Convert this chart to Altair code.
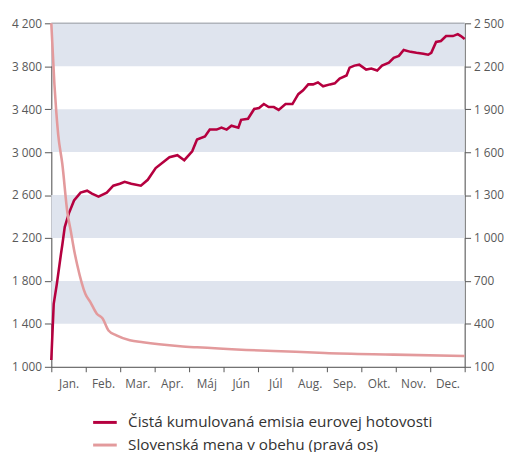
import altair as alt
import pandas as pd

months = ["Jan.", "Feb.", "Mar.", "Apr.", "Máj", "Jún", "Júl", "Aug.", "Sep.", "Okt.", "Nov.", "Dec."]

series_a = "Čistá kumulovaná emisia eurovej hotovosti"
series_b = "Slovenská mena v obehu (pravá os)"

# x in month units (0 = start of January, 12 = end of December)
a_x = [0.00, 0.07, 0.16, 0.28, 0.32, 0.39, 0.51, 0.66, 0.85, 1.04, 1.18, 1.37, 1.61, 1.80,
       1.99, 2.13, 2.32, 2.60, 2.80, 3.03, 3.43, 3.66, 3.86, 4.09, 4.23, 4.46, 4.60, 4.80,
       4.94, 5.09, 5.23, 5.43, 5.51, 5.71, 5.89, 6.03, 6.17, 6.31, 6.46, 6.60, 6.80, 7.00,
       7.17, 7.31, 7.46, 7.60, 7.74, 7.89, 8.09, 8.23, 8.37, 8.57, 8.66, 8.80, 8.94, 9.14,
       9.29, 9.46, 9.60, 9.80, 9.94, 10.09, 10.23, 10.43, 10.60, 10.80, 10.94, 11.03, 11.17,
       11.31, 11.46, 11.66, 11.80, 11.89, 12.00]
a_y = [1064, 1587, 1770, 2050, 2137, 2302, 2430, 2550, 2623, 2641, 2614, 2586, 2623, 2687,
       2705, 2724, 2705, 2687, 2742, 2852, 2953, 2971, 2925, 3008, 3118, 3146, 3210, 3210,
       3228, 3210, 3246, 3228, 3301, 3311, 3402, 3411, 3448, 3420, 3420, 3393, 3448, 3448,
       3540, 3576, 3631, 3631, 3650, 3613, 3631, 3641, 3686, 3714, 3787, 3806, 3815, 3769,
       3778, 3760, 3806, 3833, 3879, 3897, 3952, 3934, 3925, 3916, 3907, 3925, 4026,
       4035, 4081, 4081, 4099, 4081, 4053]

b_x = [0.00, 0.09, 0.14, 0.20, 0.32, 0.47, 0.56, 0.66, 0.75, 0.99, 1.13, 1.32, 1.49, 1.66,
       1.89, 2.28, 2.66, 3.13, 3.74, 4.23, 5.66, 7.09, 7.94, 9.94, 12.00]
b_y = [2500, 2074, 1895, 1723, 1517, 1173, 1056, 918, 815, 609, 554, 471, 437, 354,
       320, 286, 272, 258, 244, 236, 218, 205, 196, 185, 175]

band_lo = [3800, 3000, 2200, 1400]
band_hi = [4200, 3400, 2600, 1800]

left_ticks = list(range(1000, 4201, 400))
right_ticks = list(range(100, 2501, 300))

W, H = 420, 349
FONT = "Open Sans"
AXC = "#555555"
LBL = "#595959"

df_a = pd.DataFrame({"m": a_x, "v": a_y, "s": series_a})
df_b = pd.DataFrame({"m": b_x, "v": b_y, "s": series_b})
df_band = pd.DataFrame({"lo": band_lo, "hi": band_hi})
df_top = pd.DataFrame({"v": [4200]})

xscale = alt.Scale(domain=[0, 12], nice=False, zero=False)
yl = alt.Scale(domain=[1000, 4200], nice=False, zero=False)
yr = alt.Scale(domain=[100, 2500], nice=False, zero=False)
color = alt.Color(
    "s:N",
    scale=alt.Scale(domain=[series_a, series_b], range=["#b5003f", "#e39a9c"]),
    legend=alt.Legend(
        title=None, orient="none", legendX=41, legendY=392, direction="vertical",
        symbolType="stroke", symbolSize=576, symbolStrokeWidth=3,
        labelFont=FONT, labelFontSize=15.5, labelColor="#333333", labelOffset=10,
        rowPadding=1, labelLimit=500,
    ),
)

month_expr = "datum.value < 12 ? [" + ",".join("'" + m + "'" for m in months) + "][datum.value] : ''"
xaxis = alt.Axis(
    values=list(range(0, 13)), labelExpr=month_expr, labelOffset=17.5, labelAlign="center",
    title=None, grid=False, tickSize=5, domainColor=AXC, tickColor=AXC, labelColor=LBL,
    labelFont=FONT, labelFontSize=12, labelOverlap=False, labelBound=False, labelFlush=False,
    labelPadding=7,
)
lfmt = "replace(format(datum.value, ','), ',', ' ')"
yaxis_l = alt.Axis(
    values=left_ticks, labelExpr=lfmt, title=None, grid=False, tickSize=7,
    domainColor=AXC, tickColor=AXC, labelColor=LBL, labelFont=FONT, labelFontSize=12,
    labelPadding=3,
)
yaxis_r = alt.Axis(
    values=right_ticks, labelExpr=lfmt, title=None, grid=False, tickSize=6, orient="right",
    domainColor=AXC, tickColor=AXC, labelColor=LBL, labelFont=FONT, labelFontSize=12,
    labelPadding=3,
)

bands = alt.Chart(df_band).mark_rect(color="#dfe4ee").encode(
    x=alt.value(0), x2=alt.value(W),
    y=alt.Y("lo:Q", scale=yl, axis=yaxis_l), y2="hi:Q",
)
top = alt.Chart(df_top).mark_rule(color="#b0b4bb", strokeWidth=1.5).encode(
    x=alt.value(0), x2=alt.value(W), y=alt.Y("v:Q", scale=yl, axis=yaxis_l),
)
line_a = alt.Chart(df_a).mark_line(strokeWidth=2.6, interpolate="linear").encode(
    x=alt.X("m:Q", scale=xscale, axis=xaxis),
    y=alt.Y("v:Q", scale=yl, axis=yaxis_l),
    color=color,
)
line_b = alt.Chart(df_b).mark_line(strokeWidth=2.6, interpolate="monotone").encode(
    x=alt.X("m:Q", scale=xscale, axis=xaxis),
    y=alt.Y("v:Q", scale=yr, axis=yaxis_r),
    color=color,
)

left = alt.layer(bands, top, line_a)
chart = (
    alt.layer(left, line_b)
    .resolve_scale(y="independent")
    .properties(
        width=W, height=H,
        autosize=alt.AutoSizeParams(type="none"),
        padding={"left": 44, "top": 12, "right": 43, "bottom": 83},
    )
    .configure_view(stroke=None)
    .configure(background="white")
)

chart.save("out.html", embed_options={"renderer": "svg", "actions": False})
